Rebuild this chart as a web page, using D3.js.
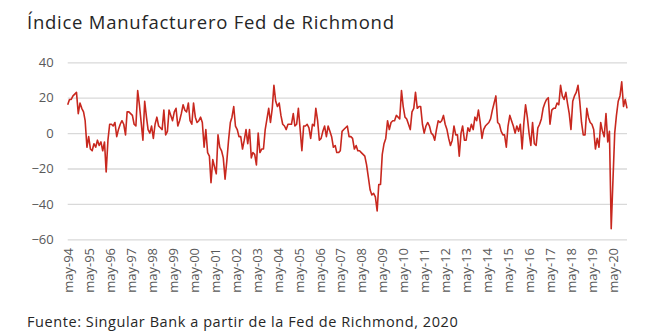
<!DOCTYPE html>
<html><head><meta charset="utf-8">
<script src="https://cdn.jsdelivr.net/npm/d3@7"></script>
<style>
html,body{margin:0;padding:0;background:#fff;}
svg{display:block;font-family:"Open Sans","Noto Sans",sans-serif;}
</style></head>
<body><svg id="chart" width="650" height="335"></svg>
<script>
// ---- data ----
const title = "Índice Manufacturero Fed de Richmond";
const source = "Fuente: Singular Bank a partir de la Fed de Richmond, 2020";
const startYear = 1994, startMonth = 4; // May 1994 (0-based month)
const values = [
  16, 19, 19, 21, 22, 23, 11, 17, 14, 12, 7, -8,
  -2, -9, -10, -6, -8, -4, -7, -5, -10, -5, -22, -4,
  5, 5, 4, 6, -2, 2, 5, 7, 5, -1, 12, 12,
  11, 10, 5, 4, 24, 16, 6, -4, 18, 9, 2, 0,
  4, -3, 5, 9, 4, 3, 2, 13, -1, 1, 13, 10,
  7, 12, 14, 4, 7, 11, 16, 13, 12, 17, 7, 5,
  17, 9, 6, 7, 9, 6, -8, 2, -11, -13, -28, -15,
  -19, -23, -1, -8, -10, -14, -26, -16, -4, 6, 9, 15,
  4, 2, -2, -2, -9, -4, 2, -6, 2, -14, -11, -12,
  -18, 0, -11, -9, -9, 2, 8, 14, 6, 14, 27, 18,
  15, 17, 10, 5, 4, 2, 5, 5, 5, 11, 4, 5,
  14, 2, -10, 4, 4, 5, 3, -3, 5, 4, 14, 7,
  -4, -3, 1, 4, -2, 4, 1, -2, -8, -7, -11, -11,
  -10, 1, 2, 3, 4, -2, -2, -3, -9, -7, -10, -10,
  -11, -12, -13, -18, -25, -32, -35, -34, -36, -44, -29, -29,
  -12, -6, -3, 7, 2, 6, 7, 7, 10, 9, 8, 24,
  15, 9, 8, 5, 2, 12, 14, 23, 14, 15, 15, 5,
  0, 4, 6, 4, 0, -1, -4, 2, 7, 6, 7, 10,
  5, 2, -3, -7, -4, 4, -1, -1, -13, 0, 4, -4,
  -4, 3, 1, 5, 2, 9, 7, 13, 6, -3, 2, 4,
  5, 6, 8, 13, 17, 21, 6, 5, 1, -1,
  -1, -8, 4, 10, 7, 4, 0, 4, 1, 5, -9, 6,
  16, 9, 0, -7, 6, -6, -7, 3, 5, 8, 14, 17,
  19, 20, 5, 13, 14, 14, 17, 16, 27, 21, 19, 23,
  17, 11, 2, 18, 21, 23, 27, 18, 6, -1, -1, 14,
  9, 6, 5, 2, -9, -3, -8, 6, 1, -2, 11, -5,
  1, -54, -27, 0, 10, 18, 21, 29, 15, 19, 14
];
const yTicks = [40, 20, 0, -20, -40, -60];
const tickLabels = ["may-94","may-95","may-96","may-97","may-98","may-99","may-00","may-01","may-02","may-03","may-04","may-05","may-06","may-07","may-08","may-09","may-10","may-11","may-12","may-13","may-14","may-15","may-16","may-17","may-18","may-19","may-20"];

// ---- derived ----
const dates = values.map((v, i) => new Date(startYear, startMonth + i, 1));
const series = values.map((v, i) => ({date: dates[i], value: v}));
const tickDates = tickLabels.map((t, k) => new Date(startYear + k, startMonth, 1));

const svg = d3.select("#chart");
const x = d3.scaleTime().domain([dates[0], dates[dates.length - 1]]).range([67.7, 627]);
const y = d3.scaleLinear().domain([-60, 40]).range([239.3, 62.3]);

// title
svg.append("text").attr("x", 27).attr("y", 29)
  .attr("font-size", 18.5).attr("letter-spacing", 0.75).attr("fill", "#262626").text(title);

// gridlines + y labels
const yAxis = d3.axisLeft(y).tickValues(yTicks).tickSize(-(627 - 67.7)).tickPadding(14).tickFormat(d3.format("d"));
const gy = svg.append("g").attr("transform", "translate(67.7,0)").call(yAxis);
gy.select(".domain").remove();
gy.selectAll(".tick line").attr("stroke", "#d9d9d9").attr("stroke-width", 1.3);
gy.selectAll(".tick text").attr("font-size", 13).attr("fill", "#595959")
  .attr("font-family", "\"Open Sans\",sans-serif");

// x labels
const xAxis = d3.axisBottom(x).tickValues(tickDates).tickSize(0)
  .tickFormat((d, k) => tickLabels[k]);
const gx = svg.append("g").attr("transform", "translate(0,248)").call(xAxis);
gx.select(".domain").remove();
gx.selectAll(".tick text")
  .attr("font-size", 13).attr("fill", "#595959")
  .attr("font-family", "\"Open Sans\",sans-serif")
  .attr("text-anchor", "end")
  .attr("transform", "rotate(-90)")
  .attr("x", 0).attr("y", 0).attr("dy", "0.36em").attr("dx", "0");

// line
const line = d3.line().x(d => x(d.date)).y(d => y(d.value));
svg.append("path").datum(series)
  .attr("fill", "none").attr("stroke", "#c8281f").attr("stroke-width", 1.6)
  .attr("stroke-linejoin", "round").attr("d", line);

// source
svg.append("text").attr("x", 27).attr("y", 327)
  .attr("font-size", 14.5).attr("letter-spacing", 0.57).attr("fill", "#262626").text(source);
</script></body></html>
